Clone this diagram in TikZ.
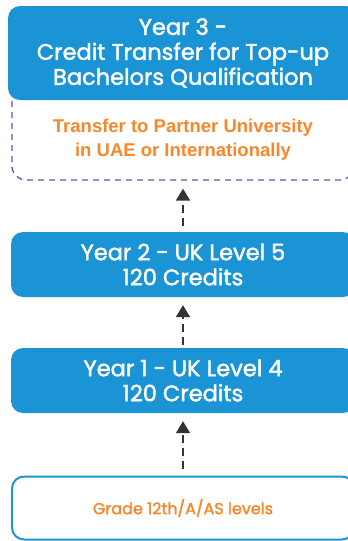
\documentclass[tikz,border=0pt]{standalone}
\usepackage{fontspec}
\setmainfont{Poppins}
\newfontfamily\popf{Poppins}[FakeBold=1.8]
\newfontfamily\arialb{Liberation Sans}
\usetikzlibrary{arrows.meta}
\definecolor{boxblue}{RGB}{27,148,214}
\definecolor{dashpurple}{RGB}{122,72,166}
\definecolor{txtorange}{RGB}{245,135,45}
\definecolor{arrgray}{RGB}{51,51,51}
\begin{document}
\begin{tikzpicture}[x=1pt,y=-1pt,
  bluebox/.style={draw=none,fill=boxblue,rounded corners=12pt,text=white,
    align=center,inner sep=0pt,font=\popf\fontsize{22.5}{25}\selectfont},
  outbox/.style={draw=boxblue,line width=2pt,fill=white,rounded corners=12pt,
    inner sep=0pt,align=center,text=txtorange,font=\popf\fontsize{16}{18}\selectfont},
  dashbox/.style={draw=dashpurple,line width=1.3pt,dash pattern=on 6pt off 5pt,
    rounded corners=14pt,inner sep=0pt},
  orangetxt/.style={text=txtorange,align=center,inner sep=0pt,
    font=\arialb\bfseries\fontsize{18.5}{24}\selectfont},
  flowarrow/.style={draw=arrgray,line width=1.8pt,dash pattern=on 8pt off 5pt,
    -{Triangle[width=14pt,length=12pt]}},
]
\useasboundingbox (0,0) rectangle (348,541);
\node[dashbox,minimum width=342pt,minimum height=120pt] (partnerbox) at (183,120) {};
\node[bluebox,minimum width=350pt,minimum height=94pt] (year3) at (183,53)
  {Year 3 -\\Credit Transfer for Top-up\\Bachelors Qualification};
\node[orangetxt] (partner) at (183,140) {Transfer to Partner University\\in UAE or Internationally};
\node[bluebox,minimum width=344pt,minimum height=65pt] (year2) at (183,264.5)
  {Year 2 - UK Level 5\\120 Credits};
\node[bluebox,minimum width=344pt,minimum height=65pt] (year1) at (183,380.5)
  {Year 1 - UK Level 4\\120 Credits};
\node[outbox,minimum width=342pt,minimum height=63pt] (grade) at (183,508)
  {Grade 12th/A/AS levels};
\draw[flowarrow,shorten <=6pt,shorten >=8pt] (year2.north) -- (partnerbox.south);
\draw[flowarrow,shorten <=3pt,shorten >=8pt] (year1.north) -- (year2.south);
\draw[flowarrow,shorten <=7pt,shorten >=8pt] (grade.north) -- (year1.south);
\end{tikzpicture}
\end{document}
